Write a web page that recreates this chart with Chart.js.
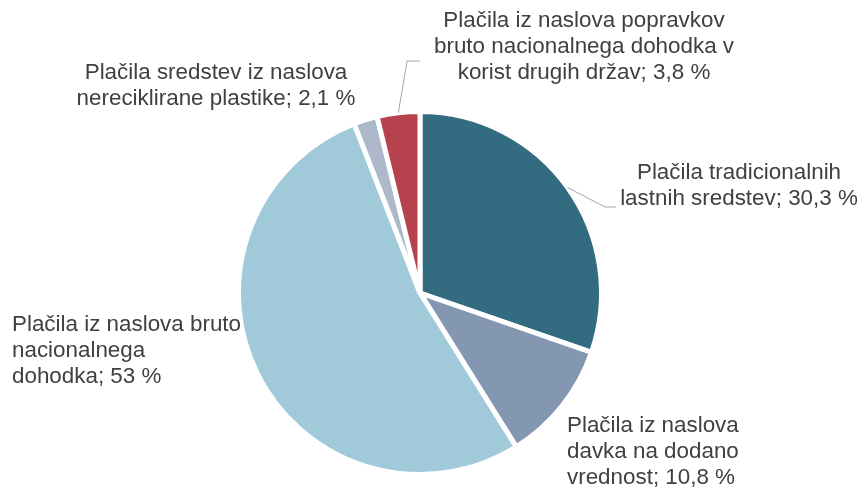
<!DOCTYPE html>
<html>
<head>
<meta charset="utf-8">
<script src="https://cdn.jsdelivr.net/npm/chart.js@4"></script>
<style>
  html, body { margin: 0; padding: 0; background: #fff; }
  #wrap { width: 861px; height: 489px; position: relative; }
</style>
</head>
<body>
<div id="wrap"><canvas id="pieChart" width="861" height="489"></canvas></div>
<script>
// Podatki
const categories = [
    ['Plačila tradicionalnih', 'lastnih sredstev'],
    ['Plačila iz naslova', 'davka na dodano', 'vrednost'],
    ['Plačila iz naslova bruto', 'nacionalnega', 'dohodka'],
    ['Plačila sredstev iz naslova', 'nereciklirane plastike'],
    ['Plačila iz naslova popravkov', 'bruto nacionalnega dohodka v', 'korist drugih držav']
];
const shares = [30.3, 10.8, 53, 2.1, 3.8];
const sliceColors = ['#336b80', '#8497b0', '#a0c9da', '#adb9ca', '#b5424c'];

// Postavitev oznak (x, prva osnovna črta, poravnava, lom vodilne črte)
const labelPlaces = [
    { x: 739, y: 179, align: 'center', elbow: [605, 207], end: [616, 207] },
    { x: 567, y: 432, align: 'left' },
    { x: 12, y: 331, align: 'left' },
    { x: 216, y: 79, align: 'center' },
    { x: 584, y: 27, align: 'center', elbow: [407, 61], end: [420, 61] }
];

function fmtShare(v) {
    return String(v).replace('.', ',') + ' %';
}

// Vtičnik za oznake podatkov
const sliceLabels = {
    id: 'sliceLabels',
    afterDatasetsDraw(chart) {
        const ctx = chart.ctx;
        const meta = chart.getDatasetMeta(0);
        ctx.save();
        meta.data.forEach((arc, i) => {
            const place = labelPlaces[i];
            const p = arc.getProps(['x', 'y', 'startAngle', 'endAngle', 'outerRadius'], true);
            if (place.elbow) {
                const mid = (p.startAngle + p.endAngle) / 2;
                ctx.beginPath();
                ctx.moveTo(p.x + Math.cos(mid) * p.outerRadius, p.y + Math.sin(mid) * p.outerRadius);
                ctx.lineTo(place.elbow[0], place.elbow[1]);
                ctx.lineTo(place.end[0], place.end[1]);
                ctx.strokeStyle = '#a6a6a6';
                ctx.lineWidth = 1;
                ctx.stroke();
            }
            const lines = categories[i].slice();
            lines[lines.length - 1] += '; ' + fmtShare(shares[i]);
            ctx.font = '22.4px "Liberation Sans", Arial, sans-serif';
            ctx.fillStyle = '#404040';
            ctx.textAlign = place.align;
            ctx.textBaseline = 'alphabetic';
            lines.forEach((ln, k) => ctx.fillText(ln, place.x, place.y + k * 26));
        });
        ctx.restore();
    }
};

document.addEventListener('DOMContentLoaded', function() {
    const ctx = document.getElementById('pieChart').getContext('2d');
    new Chart(ctx, {
        type: 'pie',
        data: {
            labels: categories,
            datasets: [{
                data: shares,
                backgroundColor: sliceColors,
                borderColor: '#ffffff',
                borderWidth: 5
            }]
        },
        options: {
            responsive: false,
            animation: false,
            layout: { padding: { top: 109, bottom: 12, left: 236, right: 257 } },
            plugins: {
                legend: { display: false },
                tooltip: { enabled: false }
            }
        },
        plugins: [sliceLabels]
    });
});
</script>
</body>
</html>
